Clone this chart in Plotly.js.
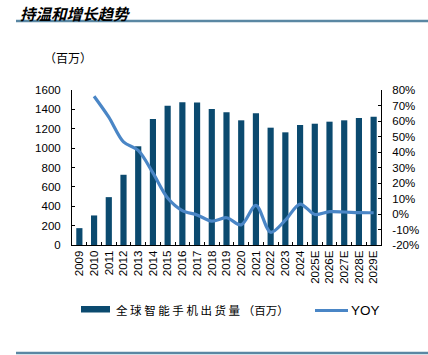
<!DOCTYPE html>
<html>
<head>
<meta charset="utf-8">
<script src="https://cdn.plot.ly/plotly-3.0.1.min.js"></script>
<style>
html,body{margin:0;padding:0;background:#fff;}
#chart{width:428px;height:355px;}
</style>
</head>
<body>
<div id="chart"></div>
<script>
const years = ["2009","2010","2011","2012","2013","2014","2015","2016","2017","2018","2019","2020","2021","2022","2023","2024","2025E","2026E","2027E","2028E","2029E"];
const shipments = [174, 305, 494, 725, 1019, 1301, 1437, 1473, 1472, 1405, 1371, 1287, 1360, 1211, 1163, 1239, 1252, 1273, 1287, 1311, 1324];
const yoyYears = years.slice(1);
const yoy = [76, 62.5, 46.5, 41, 26.5, 10.3, 2.2, -0.6, -4.6, -2.4, -7.0, 5.6, -11.8, -4.0, 6.4, -0.3, 1.5, 1.3, 0.9, 0.8];
const leftTicks = [0,200,400,600,800,1000,1200,1400,1600];
const rightTicks = [-20,-10,0,10,20,30,40,50,60,70,80];

const L = 72, R = 381, T = 90, B = 245;
const px = x => (x - L) / (R - L);
const py = y => (B - y) / (B - T);

const traces = [
  {
    type: 'bar', x: years, y: shipments, name: '全球智能手机出货量（百万）',
    marker: {color: '#0b4a6f'}, width: 0.42, showlegend: false, hoverinfo: 'skip'
  },
  {
    type: 'scatter', mode: 'lines', x: yoyYears, y: yoy, yaxis: 'y2', name: 'YOY',
    line: {color: '#4a86c6', width: 3.2, shape: 'spline', smoothing: 0.9},
    showlegend: false, hoverinfo: 'skip'
  }
];

const axisFont = {family: 'Liberation Sans, Arial, sans-serif', size: 11.5, color: '#000'};

const layout = {
  width: 428, height: 355,
  margin: {l: L, r: 428 - R, t: T, b: 355 - B, pad: 0},
  paper_bgcolor: '#fff', plot_bgcolor: '#fff',
  showlegend: false,
  bargap: 0.58,
  xaxis: {
    type: 'category', tickangle: -90, tickfont: axisFont,
    showline: true, linecolor: '#000', linewidth: 1,
    ticks: 'inside', ticklen: 3, tickcolor: '#000', tickson: 'boundaries',
    showgrid: false, zeroline: false, fixedrange: true, automargin: false
  },
  yaxis: {
    range: [0, 1600], tickvals: leftTicks, ticktext: leftTicks.map(String),
    tickfont: axisFont, showline: true, linecolor: '#000', linewidth: 1,
    ticks: 'inside', ticklen: 3, tickcolor: '#000', ticklabelstandoff: 8,
    showgrid: false, zeroline: false, fixedrange: true, automargin: false
  },
  yaxis2: {
    overlaying: 'y', side: 'right', range: [-20, 80],
    tickvals: rightTicks, ticktext: rightTicks.map(v => v + '%'),
    tickfont: axisFont, showline: true, linecolor: '#000', linewidth: 1,
    ticks: 'inside', ticklen: 3, tickcolor: '#000', ticklabelstandoff: 8,
    showgrid: false, zeroline: false, fixedrange: true, automargin: false
  },
  shapes: [
    {type: 'line', xref: 'paper', yref: 'paper', x0: px(16), x1: px(428), y0: py(21), y1: py(21),
     line: {color: '#5a87a3', width: 2.5}},
    {type: 'line', xref: 'paper', yref: 'paper', x0: px(16), x1: px(428), y0: py(353), y1: py(353),
     line: {color: '#5a87a3', width: 2.5}},
    {type: 'rect', xref: 'paper', yref: 'paper', x0: px(81), x1: px(110), y0: py(312.5), y1: py(306),
     fillcolor: '#0b4a6f', line: {width: 0}},
    {type: 'line', xref: 'paper', yref: 'paper', x0: px(315), x1: px(348), y0: py(310.5), y1: py(310.5),
     line: {color: '#4a86c6', width: 3.2}}
  ],
  annotations: [
    {text: '<b><i>持温和增长趋势</i></b>', xref: 'paper', yref: 'paper', x: px(19), y: py(0.5),
     xanchor: 'left', yanchor: 'top', showarrow: false, borderpad: 0,
     font: {family: 'Noto Sans CJK SC', size: 15.5, color: '#000'}},
    {text: '（百万）', xref: 'paper', yref: 'paper', x: px(42), y: py(58),
     xanchor: 'left', yanchor: 'middle', showarrow: false,
     font: {family: 'Noto Sans CJK SC', size: 12, color: '#000'}},
    {text: '全 球 智 能 手 机 出 货 量 （百万）', xref: 'paper', yref: 'paper', x: px(114), y: py(310),
     xanchor: 'left', yanchor: 'middle', showarrow: false,
     font: {family: 'Noto Sans CJK SC', size: 11.5, color: '#000'}},
    {text: 'YOY', xref: 'paper', yref: 'paper', x: px(349), y: py(310),
     xanchor: 'left', yanchor: 'middle', showarrow: false,
     font: {family: 'Liberation Sans, Arial, sans-serif', size: 13.5, color: '#000'}}
  ]
};

Plotly.newPlot('chart', traces, layout, {displayModeBar: false, staticPlot: true});
</script>
</body>
</html>
